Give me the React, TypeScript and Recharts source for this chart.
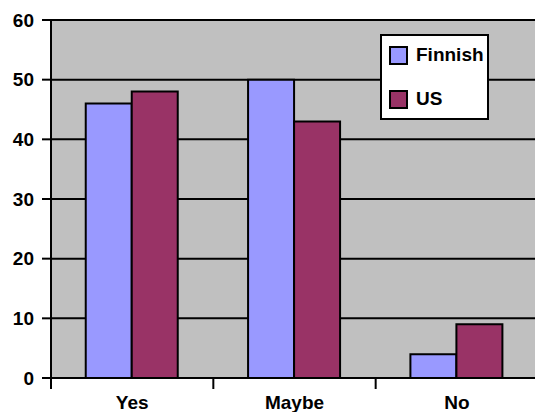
import { BarChart, Bar, XAxis, YAxis, CartesianGrid, Legend } from 'recharts';

const categories = ['Yes', 'Maybe', 'No'];
const finnish = [46, 50, 4];
const us = [48, 43, 9];
const yTicks = [0, 10, 20, 30, 40, 50, 60];

const data = categories.map((name, i) => ({ name, Finnish: finnish[i], US: us[i] }));

const CHART_W = 545;
const CHART_H = 412;
const MARGIN = { top: 20, right: 7, bottom: 0, left: 0 };
const Y_W = 51;
const X_H = 34;
const FONT = 'Arial, "Liberation Sans", sans-serif';
const BAND = (CHART_W - MARGIN.left - MARGIN.right - Y_W) / categories.length;

function CategoryTick(props: any) {
  const { x, y, payload, index } = props;
  const half = payload?.offset || BAND / 2;
  return (
    <g>
      <line x1={x - half} y1={y} x2={x - half} y2={y + 11} stroke="#000" strokeWidth={2} />
      {index === categories.length - 1 && (
        <line x1={x + half} y1={y} x2={x + half} y2={y + 11} stroke="#000" strokeWidth={2} />
      )}
      <text
        x={x}
        y={y + 31}
        textAnchor="middle"
        fontFamily={FONT}
        fontWeight="bold"
        fontSize={19}
        fill="#000"
      >
        {payload.value}
      </text>
    </g>
  );
}

function LegendBox(props: any) {
  const { payload = [] } = props;
  return (
    <div
      style={{
        boxSizing: 'border-box',
        width: 109,
        height: 86,
        background: '#fff',
        border: '2px solid #000',
        padding: '9px 0 0 7px',
        fontFamily: FONT,
        fontWeight: 'bold',
        fontSize: 19,
        color: '#000',
      }}
    >
      {payload.map((entry: any, i: number) => (
        <div
          key={entry.value}
          style={{ display: 'flex', alignItems: 'center', height: 20, marginTop: i === 0 ? 0 : 24 }}
        >
          <span
            style={{
              boxSizing: 'border-box',
              width: 19,
              height: 19,
              background: entry.color,
              border: '2px solid #000',
              marginRight: 8,
            }}
          />
          <span style={{ lineHeight: '20px' }}>{entry.value}</span>
        </div>
      ))}
    </div>
  );
}

export default function App() {
  return (
    <div
      style={{
        position: 'absolute',
        left: 0,
        top: 0,
        width: 535,
        height: 412,
        overflow: 'hidden',
        background: '#fff',
      }}
    >
      <BarChart
        width={CHART_W}
        height={CHART_H}
        data={data}
        margin={MARGIN}
        barCategoryGap="21.4%"
        barGap={0}
      >
        <CartesianGrid
          vertical={false}
          stroke="#000"
          strokeWidth={2}
          fill="#C0C0C0"
          fillOpacity={1}
        />
        <XAxis
          dataKey="name"
          height={X_H}
          axisLine={{ stroke: '#000', strokeWidth: 2 }}
          tickLine={false}
          tickSize={0}
          tickMargin={0}
          interval={0}
          tick={<CategoryTick />}
        />
        <YAxis
          width={Y_W}
          domain={[0, 60]}
          ticks={yTicks}
          interval={0}
          axisLine={{ stroke: '#000', strokeWidth: 2 }}
          tickLine={{ stroke: '#000', strokeWidth: 2 }}
          tickSize={9}
          tickMargin={8}
          tick={{ fontFamily: FONT, fontWeight: 'bold', fontSize: 19, fill: '#000' }}
        />
        <Legend
          layout="vertical"
          verticalAlign="middle"
          align="center"
          content={<LegendBox />}
          wrapperStyle={{ position: 'absolute', left: 380, top: 34, width: 109, height: 86 }}
        />
        <Bar dataKey="Finnish" fill="#9999FF" stroke="#000" strokeWidth={2} isAnimationActive={false} />
        <Bar dataKey="US" fill="#993366" stroke="#000" strokeWidth={2} isAnimationActive={false} />
      </BarChart>
    </div>
  );
}
